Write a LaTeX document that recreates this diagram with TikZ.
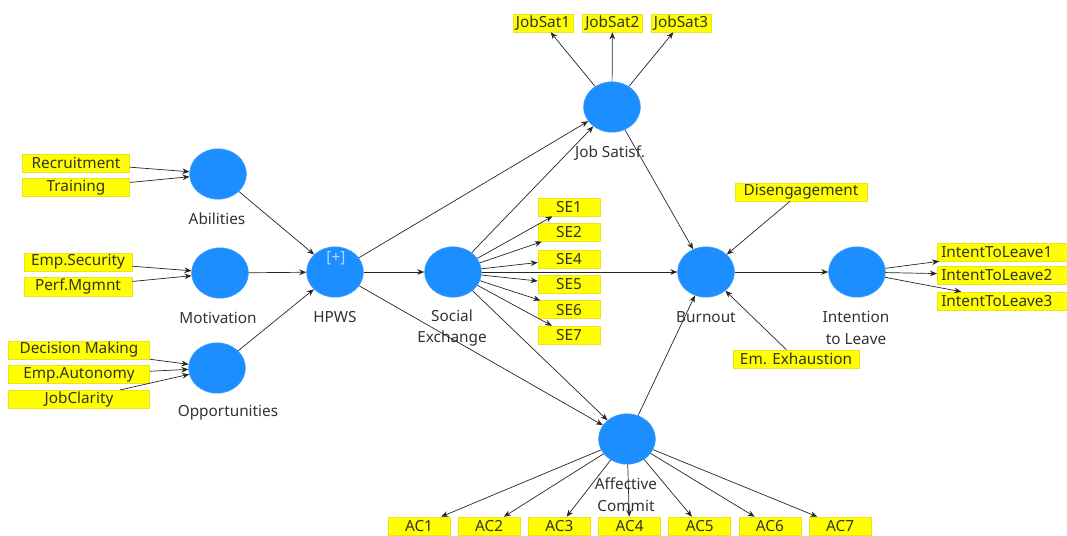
\documentclass[tikz,border=0pt]{standalone}
\usepackage{fontspec}
\setmainfont{Noto Sans}
\usetikzlibrary{arrows.meta,positioning,shapes.geometric,calc}
\definecolor{plsBlue}{RGB}{28,142,255}
\definecolor{plsYellow}{RGB}{255,255,0}
\definecolor{plsEdge}{RGB}{236,226,30}
\definecolor{plsText}{RGB}{50,50,50}

\begin{document}
\begin{tikzpicture}[x=0.025cm, y=-0.025cm,
  construct/.style={ellipse, fill=plsBlue, draw=plsBlue!85!white, minimum width=1.42cm,
                    minimum height=1.26cm, inner sep=0pt},
  indicator/.style={draw=plsEdge, fill=plsYellow, minimum height=0.45cm, inner sep=1pt,
                    text=plsText, font=\fontsize{10.9}{12}\selectfont},
  cname/.style={align=center, text=plsText, font=\fontsize{10.9}{15.6}\selectfont},
  path/.style={-{Stealth[length=5pt,width=4pt]}, line width=0.5pt, draw=black!85}
]
  \useasboundingbox (0,0) rectangle (1067,535);

  % latent variables
  \node[construct] (abil)   at (218,174) {};
  \node[construct] (motiv)  at (220,273) {};
  \node[construct] (oppor)  at (217,368) {};
  \node[construct] (hpws)   at (335,272) {};
  \node[construct] (socex)  at (453,272) {};
  \node[construct] (jobsat) at (612,107) {};
  \node[construct] (burn)   at (706,272) {};
  \node[construct] (intent) at (857,272) {};
  \node[construct] (affect) at (627,439) {};
  \node[font=\fontsize{11}{12}\selectfont, text=plsBlue!35!white] (hpwsplus) at (336,258) {[+]};

  \node[cname] (abilL)   at (217,219) {Abilities};
  \node[cname] (motivL)  at (218,318) {Motivation};
  \node[cname] (opporL)  at (228,413) {Opportunities};
  \node[cname] (hpwsL)   at (335,317) {HPWS};
  \node[cname] (socexL)  at (452,328) {Social\\Exchange};
  \node[cname] (jobsatL) at (610,153) {Job Satisf.};
  \node[cname] (burnL)   at (706,317) {Burnout};
  \node[cname] (intentL) at (856,328) {Intention\\to Leave};
  \node[cname] (affectL) at (626,495) {Affective\\Commit};

  % indicators
  \node[indicator, minimum width=2.68cm] (recr) at (76,163) {Recruitment};
  \node[indicator, minimum width=2.68cm, below=0.15cm of recr] (trai) {Training};
  \node[indicator, minimum width=2.7cm] (esec) at (78,262) {Emp.Security};
  \node[indicator, minimum width=2.7cm, below=0.15cm of esec] (perf) {Perf.Mgmnt};
  \node[indicator, minimum width=3.53cm] (decm) at (79,350) {Decision Making};
  \node[indicator, minimum width=3.53cm, below=0.15cm of decm] (eaut) {Emp.Autonomy};
  \node[indicator, minimum width=3.53cm, below=0.15cm of eaut] (jcla) {JobClarity};

  \node[indicator, minimum width=1.5cm] (js1) at (543,23) {JobSat1};
  \node[indicator, minimum width=1.5cm, right=0.22cm of js1] (js2) {JobSat2};
  \node[indicator, minimum width=1.5cm, right=0.2cm of js2] (js3) {JobSat3};

  \node[indicator, minimum width=1.55cm] (se1) at (569,207) {SE1};
  \node[indicator, minimum width=1.55cm, below=0.17cm of se1] (se2) {SE2};
  \node[indicator, minimum width=1.55cm, below=0.2cm of se2]  (se4) {SE4};
  \node[indicator, minimum width=1.55cm, below=0.17cm of se4] (se5) {SE5};
  \node[indicator, minimum width=1.55cm, below=0.17cm of se5] (se6) {SE6};
  \node[indicator, minimum width=1.55cm, below=0.17cm of se6] (se7) {SE7};

  \node[indicator, minimum width=3.3cm] (diseng) at (801,192) {Disengagement};
  \node[indicator, minimum width=3.15cm] (exhau) at (796,359) {Em. Exhaustion};

  \node[indicator, text width=3.45cm, align=left, inner xsep=0.1cm, anchor=west] (itl1) at (937,252) {IntentToLeave1};
  \node[indicator, text width=3.45cm, align=left, inner xsep=0.1cm, anchor=west] (itl2) at (937,275) {IntentToLeave2};
  \node[indicator, text width=3.45cm, align=left, inner xsep=0.1cm, anchor=west] (itl3) at (937,301) {IntentToLeave3};

  \node[indicator, minimum width=1.55cm] (ac1) at (419,526) {AC1};
  \node[indicator, minimum width=1.55cm, right=0.19cm of ac1] (ac2) {AC2};
  \node[indicator, minimum width=1.55cm, right=0.19cm of ac2] (ac3) {AC3};
  \node[indicator, minimum width=1.55cm, right=0.19cm of ac3] (ac4) {AC4};
  \node[indicator, minimum width=1.55cm, right=0.19cm of ac4] (ac5) {AC5};
  \node[indicator, minimum width=1.55cm, right=0.19cm of ac5] (ac6) {AC6};
  \node[indicator, minimum width=1.55cm, right=0.19cm of ac6] (ac7) {AC7};

  % formative indicators
  \draw[path] (recr) -- (abil);
  \draw[path] (trai) -- (abil);
  \draw[path] (esec) -- (motiv);
  \draw[path] (perf) -- (motiv);
  \draw[path] (decm) -- (oppor);
  \draw[path] (eaut) -- (oppor);
  \draw[path] (jcla) -- (oppor);

  % structural paths
  \draw[path] (abil)  -- (hpws);
  \draw[path] (motiv) -- (hpws);
  \draw[path] (oppor) -- (hpws);
  \draw[path] (hpws)  -- (socex);
  \draw[path] (hpws)  -- (jobsat);
  \draw[path] (hpws)  -- (affect);
  \draw[path] (socex) -- (jobsat);
  \draw[path] (socex) -- (burn);
  \draw[path] (socex) -- (affect);
  \draw[path] (jobsat) -- (burn);
  \draw[path] (affect) -- (burn);
  \draw[path] (diseng) -- (burn);
  \draw[path] (exhau)  -- (burn);
  \draw[path] (burn)   -- (intent);

  % reflective indicators
  \draw[path] (jobsat) -- (js1);
  \draw[path] (jobsat) -- (js2);
  \draw[path] (jobsat) -- (js3);
  \draw[path] (socex) -- (se1);
  \draw[path] (socex) -- (se2);
  \draw[path] (socex) -- (se4);
  \draw[path] (socex) -- (se5);
  \draw[path] (socex) -- (se6);
  \draw[path] (socex) -- (se7);
  \draw[path] (intent) -- (itl1);
  \draw[path] (intent) -- (itl2);
  \draw[path] (intent) -- (itl3);
  \draw[path] (affect) -- (ac1);
  \draw[path] (affect) -- (ac2);
  \draw[path] (affect) -- (ac3);
  \draw[path] (affect) -- (ac4);
  \draw[path] (affect) -- (ac5);
  \draw[path] (affect) -- (ac6);
  \draw[path] (affect) -- (ac7);
\end{tikzpicture}
\end{document}
